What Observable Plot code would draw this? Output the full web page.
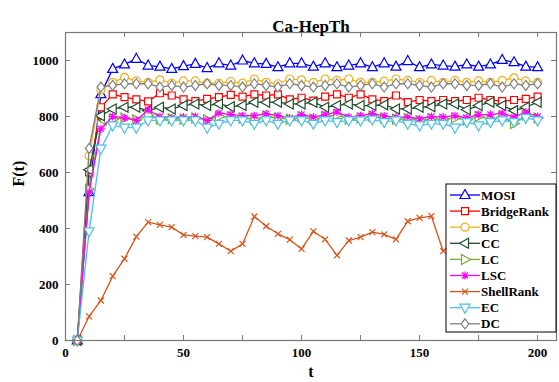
<!DOCTYPE html>
<html><head><meta charset="utf-8">
<script src="https://cdn.jsdelivr.net/npm/d3@7"></script>
<script src="https://cdn.jsdelivr.net/npm/@observablehq/plot@0.6"></script>
<style>body{margin:0;background:#fff} svg{display:block}</style>
</head><body><div id="chart"></div>
<script>
// ---- data ----
const t = [5,10,15,20,25,30,35,40,45,50,55,60,65,70,75,80,85,90,95,100,105,110,115,120,125,130,135,140,145,150,155,160,165,170,175,180,185,190,195,200];
const MOSI = [0,530,880,970,986,1006,982,978,970,980, 988,973,990,982,1000,990,988,976,990,990, 978,990,976,982,990,976,990,978,998,976, 986,982,978,986,978,986,1002,994,978,976];
const BridgeRank = [0,600,833,879,869,861,854,883,875,861, 855,863,869,877,871,879,875,879,861,867, 857,871,879,867,879,861,855,875,851,859, 855,859,855,859,867,859,855,859,863,871];
const BC = [0,660,895,922,940,927,922,931,919,927, 927,919,919,925,919,934,922,917,934,931, 922,934,929,934,922,922,926,934,929,922, 929,922,929,922,927,922,929,938,927,922];
const CC = [0,610,803,827,833,833,821,833,827,839, 845,839,845,835,839,851,851,851,845,845, 851,833,839,845,839,839,842,827,827,833, 835,845,845,824,839,851,839,821,833,851];
const LC = [0,540,770,790,795,788,805,790,792,790, 795,788,800,798,795,790,800,795,790,798, 790,800,805,790,795,800,795,790,792,785, 792,790,795,788,800,790,800,775,805,795];
const LSC = [0,530,756,800,795,786,824,800,795,798, 800,786,812,807,803,803,810,803,795,807, 798,807,816,798,803,810,802,798,798,792, 800,798,803,795,807,807,812,798,816,800];
const ShellRank = [0,86,143,230,292,371,423,413,405,377, 373,369,345,319,345,443,408,381,360,327, 390,361,304,357,369,387,379,361,426,438, 444,319,360,375,385,380,370,380,385,375];
const EC = [0,390,685,768,760,760,786,786,786,786, 786,760,774,786,786,774,786,774,786,786, 774,786,780,786,786,789,780,786,774,768, 774,774,760,780,768,780,786,780,795,786];
const DC = [0,686,905,911,917,917,917,905,911,905, 911,917,911,911,905,917,911,905,917,911, 905,911,917,905,911,917,905,917,917,911, 905,917,917,911,911,917,905,917,911,917];

const seriesNames = ["MOSI","BridgeRank","BC","CC","LC","LSC","ShellRank","EC","DC"];
const seriesValues = [MOSI, BridgeRank, BC, CC, LC, LSC, ShellRank, EC, DC];
const xTicks = [0,25,50,75,100,125,150,175,200];
const xTickLabels = [0,50,100,150,200];
const yTicks = [0,200,400,600,800,1000];
const titleText = "Ca-HepTh";
const xLabel = "t";
const yLabel = "F(t)";

// ---- styles ----
const serif = "'Liberation Serif', 'DejaVu Serif', serif";
const colors = ["#0000ff","#ff0000","#edb120","#1d4d2e","#77ac30","#ff00ff","#d95319","#4dbeee","#808080"];
function poly(pts){ return {draw(ctx){ ctx.moveTo(pts[0][0],pts[0][1]); for(let i=1;i<pts.length;i++) ctx.lineTo(pts[i][0],pts[i][1]); ctx.closePath(); }}; }
function segs(list){ return {draw(ctx){ for(const [a,b,c,d] of list){ ctx.moveTo(a,b); ctx.lineTo(c,d);} }}; }
const symUp = poly([[0,-5.5],[5,3.5],[-5,3.5]]);
const symDown = poly([[0,5.5],[5,-3.5],[-5,-3.5]]);
const symLeft = poly([[-5.5,0],[3.5,-5],[3.5,5]]);
const symRight = poly([[5.5,0],[-3.5,-5],[-3.5,5]]);
const symSquare = poly([[-3.5,-3.5],[3.5,-3.5],[3.5,3.5],[-3.5,3.5]]);
const symDiamond = poly([[0,-5],[3.8,0],[0,5],[-3.8,0]]);
const symCircle = {draw(ctx){ ctx.moveTo(4,0); ctx.arc(0,0,4,0,2*Math.PI); ctx.closePath(); }};
const symAst = segs([[-4,0,4,0],[0,-4,0,4],[-3,-3,3,3],[-3,3,3,-3]]);
const symCross = segs([[-3,-3,3,3],[-3,3,3,-3]]);
const markers = [symUp, symSquare, symCircle, symLeft, symRight, symAst, symCross, symDown, symDiamond];

const W = 559, H = 382, mL = 65, mR = 3, mT = 32, mB = 42;
const innerW = W - mL - mR, innerH = H - mT - mB;
const axisColor = "#777";

const marks = [];
seriesNames.forEach((name, k) => {
  const rows = t.map((tt, i) => ({t: tt, v: seriesValues[k][i]}));
  marks.push(Plot.line(rows, {x: "t", y: "v", stroke: colors[k], strokeWidth: 1.3}));
  marks.push(Plot.dot(rows, {x: "t", y: "v", symbol: markers[k], stroke: colors[k], fill: "white", strokeWidth: 1.2}));
});

const svg = Plot.plot({
  width: W, height: H,
  marginLeft: mL, marginRight: mR, marginTop: mT, marginBottom: mB,
  style: {fontFamily: serif, fontWeight: "bold", fontSize: "13px", background: "white", color: "black"},
  x: {domain: [0, 208]},
  y: {domain: [0, 1100]},
  marks: [
    ...marks,
    Plot.frame({stroke: axisColor, strokeWidth: 1.2}),
    Plot.ruleX(xTicks, {x: d => d, stroke: axisColor, insetTop: innerH - 5}),
    Plot.ruleX(xTicks, {x: d => d, stroke: axisColor, insetBottom: innerH - 5}),
    Plot.ruleY(yTicks, {y: d => d, stroke: axisColor, insetRight: innerW - 5}),
    Plot.ruleY(yTicks, {y: d => d, stroke: axisColor, insetLeft: innerW - 5}),
    Plot.axisX(xTickLabels, {tickSize: 0, tickPadding: 7, label: null, fontSize: 13, fontFamily: serif, fontWeight: "bold", tickFormat: d => String(d)}),
    Plot.axisY(yTicks, {tickSize: 0, tickPadding: 7, label: null, fontSize: 13, fontFamily: serif, fontWeight: "bold", tickFormat: d => String(d)}),
    Plot.text([titleText], {frameAnchor: "top", dy: -13, fontSize: 17, fontWeight: "bold", fontFamily: serif}),
    Plot.text([xLabel], {frameAnchor: "bottom", dy: 36, fontSize: 16, fontWeight: "bold", fontFamily: serif}),
    Plot.text([yLabel], {frameAnchor: "left", dx: -47, rotate: -90, fontSize: 16, fontWeight: "bold", fontFamily: serif})
  ]
});

// ---- legend ----
const lg = d3.select(svg).append("g").attr("text-anchor", "start");
const lx = 446, ly = 184, lw = 110, lh = 148, row = 16.1;
lg.append("rect").attr("x", lx).attr("y", ly).attr("width", lw).attr("height", lh)
  .attr("fill", "white").attr("stroke", "black").attr("stroke-width", 1);
seriesNames.forEach((name, k) => {
  const cy = ly + 11 + k * row;
  lg.append("line").attr("x1", lx + 4).attr("x2", lx + 34).attr("y1", cy).attr("y2", cy)
    .attr("stroke", colors[k]).attr("stroke-width", 1.3);
  lg.append("path").attr("d", d3.symbol().type(markers[k])()).attr("transform", `translate(${lx + 19},${cy})`)
    .attr("stroke", colors[k]).attr("fill", "white").attr("stroke-width", 1.2);
  lg.append("text").attr("x", lx + 35).attr("y", cy).attr("dy", "0.35em").attr("text-anchor", "start")
    .attr("font-family", serif).attr("font-size", 13).attr("font-weight", "bold").attr("fill", "black").text(name);
});

document.getElementById("chart").appendChild(svg);
</script>
</body></html>
